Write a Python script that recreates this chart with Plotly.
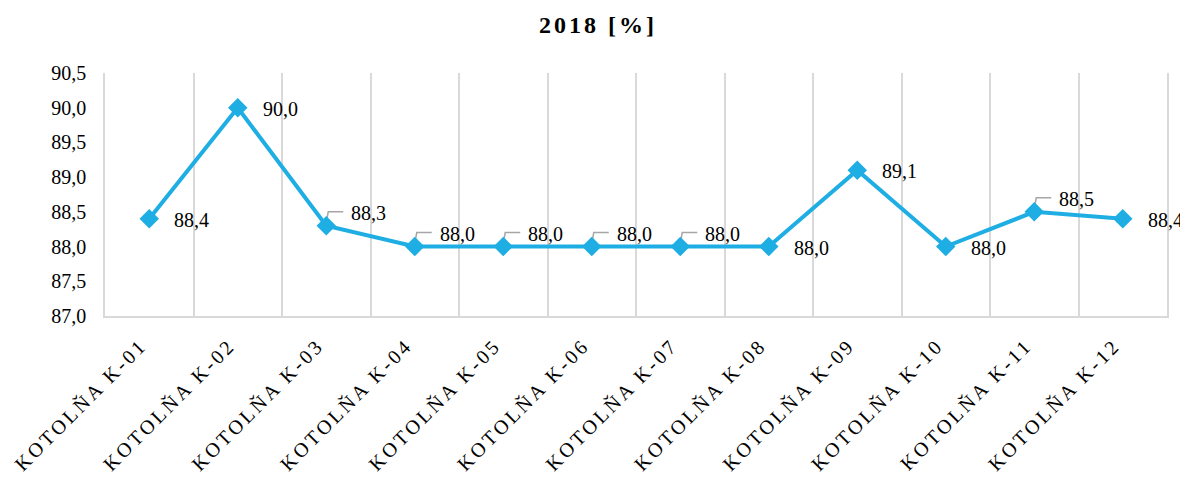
import plotly.graph_objects as go

categories = ["KOTOLŇA K-01", "KOTOLŇA K-02", "KOTOLŇA K-03", "KOTOLŇA K-04",
              "KOTOLŇA K-05", "KOTOLŇA K-06", "KOTOLŇA K-07", "KOTOLŇA K-08",
              "KOTOLŇA K-09", "KOTOLŇA K-10", "KOTOLŇA K-11", "KOTOLŇA K-12"]
values = [88.4, 90.0, 88.3, 88.0, 88.0, 88.0, 88.0, 88.0, 89.1, 88.0, 88.5, 88.4]
# label placement style per point: "right" = beside marker, "leader" = above-right with leader line
label_style = ["right", "right", "leader", "leader", "leader", "leader", "leader",
               "right", "right", "right", "leader", "right"]

y_ticks = [87.0, 87.5, 88.0, 88.5, 89.0, 89.5, 90.0, 90.5]

FONT = "Liberation Serif, Times New Roman, Times, DejaVu Serif, serif"
BLUE = "#1FAEE3"
GRID = "#D9D9D9"

fig = go.Figure()
fig.add_trace(go.Scatter(
    x=categories, y=values, mode="lines+markers",
    line=dict(color=BLUE, width=4),
    marker=dict(symbol="diamond", size=15, color=BLUE),
    hoverinfo="skip", showlegend=False,
))

annotations = []
shapes = []
for c, v, s in zip(categories, values, label_style):
    txt = f"{v:.1f}".replace(".", ",")
    if s == "right":
        annotations.append(dict(x=c, y=v, xref="x", yref="y", text=txt, showarrow=False,
                                xanchor="left", yanchor="middle", xshift=23, yshift=-1,
                                font=dict(family=FONT, size=20, color="#000")))
    else:
        annotations.append(dict(x=c, y=v, xref="x", yref="y", text=txt, showarrow=False,
                                xanchor="left", yanchor="middle", xshift=23, yshift=13,
                                font=dict(family=FONT, size=20, color="#000")))
        shapes.append(dict(type="path", xref="x", yref="y", xsizemode="pixel", ysizemode="pixel",
                           xanchor=c, yanchor=v, path="M 0,3 L 2,14 L 17,14",
                           line=dict(color="#A6A6A6", width=1.5), layer="below"))

fig.update_layout(
    width=1180, height=469,
    paper_bgcolor="white", plot_bgcolor="white",
    margin=dict(l=97, r=21, t=65, b=161),
    separators=", ",
    title=dict(text="<b>2018 [%]</b>", x=0.5, xanchor="center", y=1 - 17 / 469, yanchor="middle",
               font=dict(family=FONT, size=24, color="#000")),
    annotations=annotations,
    shapes=shapes,
    xaxis=dict(
        type="category", tickson="boundaries", showgrid=True, gridcolor=GRID, gridwidth=1.5,
        showline=True, linecolor=GRID, linewidth=1.5, ticks="",
        tickangle=-45, tickfont=dict(family=FONT, size=20, color="#000"),
        ticklabelshift=-8, ticklabelstandoff=8,
        range=[-0.5, len(categories) - 0.5], automargin=False,
    ),
    yaxis=dict(
        range=[87.0, 90.5], tickvals=y_ticks, tickformat=".1f", showgrid=False,
        showline=True, mirror=True, linecolor=GRID, linewidth=1.5, ticks="", zeroline=False,
        tickfont=dict(family=FONT, size=20, color="#000"), ticklabelstandoff=13,
        automargin=False,
    ),
)

post = """
document.querySelectorAll('.xtick text').forEach(function(e){e.style.letterSpacing='3px';});
document.querySelectorAll('.gtitle').forEach(function(e){e.style.letterSpacing='3px';});
"""
fig.write_html("out.html", post_script=post)
